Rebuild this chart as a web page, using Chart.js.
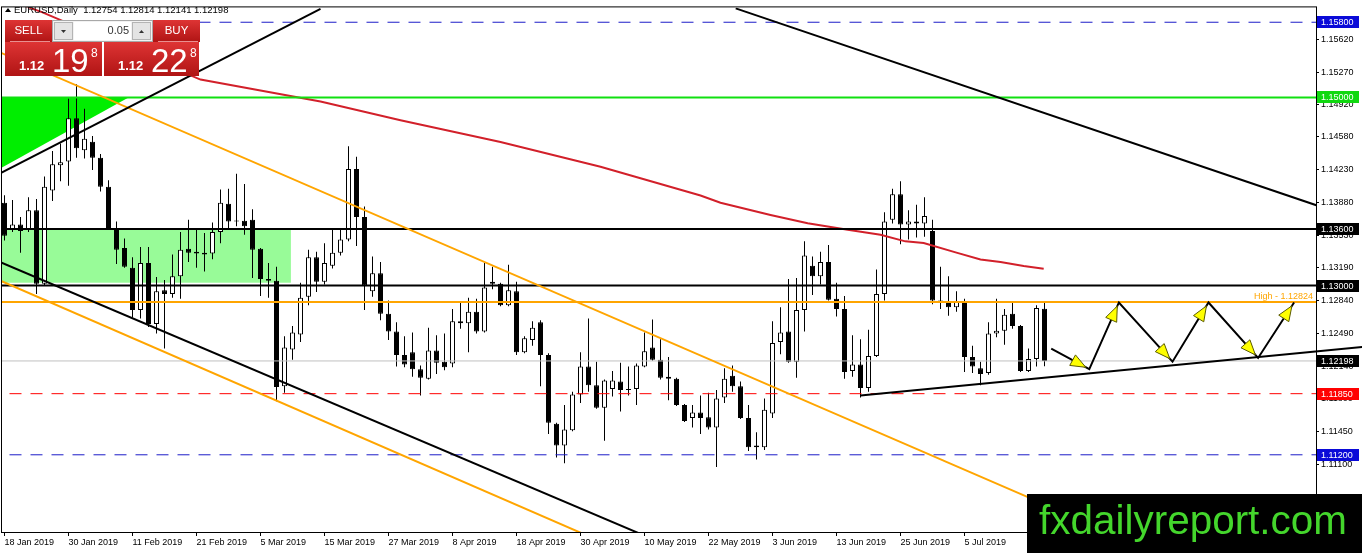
<!DOCTYPE html>
<html>
<head>
<meta charset="utf-8">
<title>EURUSD Daily</title>
<script src="https://cdn.jsdelivr.net/npm/chart.js@4.4.1/dist/chart.umd.min.js"></script>
<style>
    html, body { margin: 0; padding: 0; background: #fff; }
    #wrap { width: 1362px; height: 553px; }
</style>
</head>
<body>
<div id="wrap"><canvas id="chart" width="1362" height="553"></canvas></div>
<script>
// EURUSD daily candles, 18 Jan 2019 .. 19 Jul 2019 (bar number = position in the arrays)
var opens = [
    1.1388, 1.1360, 1.1365, 1.1359, 1.1380, 1.1302, 1.1401, 1.1428, 1.1432, 1.1478,
    1.1444, 1.1453, 1.1436, 1.1405, 1.1360, 1.1340, 1.1319, 1.1274, 1.1324, 1.1259,
    1.1295, 1.1291, 1.1310, 1.1339, 1.1336, 1.1335, 1.1334, 1.1357, 1.1387, 1.1369,
    1.1369, 1.1370, 1.1339, 1.1307, 1.1305, 1.1193, 1.1232, 1.1248, 1.1288, 1.1330,
    1.1304, 1.1321, 1.1335, 1.1349, 1.1424, 1.1373, 1.1294, 1.1313, 1.1270, 1.1251,
    1.1226, 1.1229, 1.1211, 1.1201, 1.1231, 1.1219, 1.1217, 1.1262, 1.1260, 1.1272,
    1.1251, 1.1304, 1.1302, 1.1279, 1.1294, 1.1229, 1.1242, 1.1261, 1.1226, 1.1153,
    1.1130, 1.1146, 1.1184, 1.1214, 1.1194, 1.1170, 1.1190, 1.1198, 1.1190, 1.1190,
    1.1214, 1.1234, 1.1221, 1.1203, 1.1201, 1.1173, 1.1159, 1.1165, 1.1160, 1.1149,
    1.1181, 1.1204, 1.1193, 1.1159, 1.1130, 1.1128, 1.1164, 1.1240, 1.1251, 1.1219,
    1.1274, 1.1321, 1.1310, 1.1325, 1.1286, 1.1275, 1.1209, 1.1216, 1.1191, 1.1225,
    1.1291, 1.1370, 1.1397, 1.1365, 1.1368, 1.1366, 1.1358, 1.1284, 1.1283, 1.1277,
    1.1283, 1.1224, 1.1212, 1.1207, 1.1249, 1.1252, 1.1270, 1.1257, 1.1209, 1.1222,
    1.12754
];
var highs = [
    1.1396, 1.1391, 1.1373, 1.1394, 1.1392, 1.1416, 1.1443, 1.1451, 1.1499, 1.1514,
    1.1488, 1.1459, 1.1440, 1.1412, 1.1368, 1.1350, 1.1330, 1.1341, 1.1341, 1.1309,
    1.1306, 1.1333, 1.1357, 1.1370, 1.1361, 1.1356, 1.1367, 1.1402, 1.1403, 1.1419,
    1.1408, 1.1381, 1.1340, 1.1324, 1.1320, 1.1246, 1.1257, 1.1303, 1.1338, 1.1336,
    1.1345, 1.1359, 1.1359, 1.1448, 1.1437, 1.1384, 1.1331, 1.1325, 1.1284, 1.1261,
    1.1246, 1.1250, 1.1215, 1.1255, 1.1247, 1.1249, 1.1275, 1.1283, 1.1287, 1.1286,
    1.1324, 1.1320, 1.1303, 1.1322, 1.1304, 1.1246, 1.1262, 1.1263, 1.1228, 1.1154,
    1.1173, 1.1187, 1.1229, 1.1265, 1.1219, 1.1200, 1.1209, 1.1218, 1.1214, 1.1217,
    1.1250, 1.1264, 1.1243, 1.1224, 1.1202, 1.1174, 1.1173, 1.1183, 1.1186, 1.1189,
    1.1212, 1.1215, 1.1198, 1.1173, 1.1144, 1.1180, 1.1262, 1.1277, 1.1307, 1.1308,
    1.1347, 1.1331, 1.1336, 1.1343, 1.1303, 1.1289, 1.1247, 1.1243, 1.1253, 1.1317,
    1.1378, 1.1403, 1.1411, 1.1380, 1.1386, 1.1394, 1.1370, 1.1320, 1.1310, 1.1294,
    1.1286, 1.1236, 1.1219, 1.1261, 1.1286, 1.1275, 1.1282, 1.1258, 1.1233, 1.1279,
    1.12814
];
var lows = [
    1.1348, 1.1357, 1.1335, 1.1357, 1.1291, 1.1300, 1.1390, 1.1411, 1.1406, 1.1436,
    1.1435, 1.1423, 1.1400, 1.1359, 1.1323, 1.1319, 1.1266, 1.1265, 1.1256, 1.1249,
    1.1233, 1.1287, 1.1286, 1.1325, 1.1319, 1.1315, 1.1328, 1.1345, 1.1361, 1.1363,
    1.1354, 1.1308, 1.1289, 1.1287, 1.1177, 1.1186, 1.1221, 1.1240, 1.1279, 1.1293,
    1.1301, 1.1318, 1.1332, 1.1347, 1.1342, 1.1274, 1.1288, 1.1263, 1.1242, 1.1214,
    1.1213, 1.1203, 1.1183, 1.1200, 1.1206, 1.1210, 1.1213, 1.1254, 1.1229, 1.1249,
    1.1250, 1.1296, 1.1278, 1.1278, 1.1226, 1.1228, 1.1236, 1.1193, 1.1142, 1.1117,
    1.1111, 1.1145, 1.1175, 1.1187, 1.1169, 1.1135, 1.1182, 1.1166, 1.1183, 1.1173,
    1.1213, 1.1220, 1.1200, 1.1178, 1.1172, 1.1155, 1.1149, 1.1142, 1.1147, 1.1107,
    1.1175, 1.1187, 1.1158, 1.1124, 1.1115, 1.1125, 1.1159, 1.1227, 1.1218, 1.1202,
    1.1251, 1.1290, 1.1301, 1.1284, 1.1267, 1.1201, 1.1203, 1.1181, 1.1187, 1.1224,
    1.1284, 1.1366, 1.1344, 1.1349, 1.1351, 1.1352, 1.1280, 1.1275, 1.1268, 1.1272,
    1.1208, 1.1207, 1.1194, 1.1205, 1.1245, 1.1237, 1.1254, 1.1208, 1.1208, 1.1214,
    1.12141
];
var closes = [
    1.1353, 1.1365, 1.1358, 1.1380, 1.1302, 1.1405, 1.1429, 1.1431, 1.1478, 1.1446,
    1.1456, 1.1436, 1.1405, 1.1360, 1.1338, 1.1320, 1.1274, 1.1324, 1.1259, 1.1294,
    1.1291, 1.1310, 1.1338, 1.1335, 1.1334, 1.1333, 1.1357, 1.1388, 1.1368, 1.1368,
    1.1363, 1.1338, 1.1307, 1.1305, 1.1192, 1.1234, 1.1250, 1.1287, 1.1330, 1.1304,
    1.1324, 1.1335, 1.1349, 1.1424, 1.1373, 1.1300, 1.1313, 1.1270, 1.1251, 1.1226,
    1.1216, 1.1211, 1.1202, 1.1231, 1.1218, 1.1213, 1.1262, 1.1260, 1.1272, 1.1251,
    1.1298, 1.1302, 1.1279, 1.1295, 1.1229, 1.1244, 1.1255, 1.1226, 1.1154, 1.1130,
    1.1147, 1.1184, 1.1214, 1.1194, 1.1170, 1.1199, 1.1199, 1.1189, 1.1189, 1.1215,
    1.1230, 1.1221, 1.1202, 1.1201, 1.1173, 1.1156, 1.1165, 1.1159, 1.1149, 1.1180,
    1.1201, 1.1193, 1.1159, 1.1128, 1.1128, 1.1168, 1.1239, 1.1250, 1.1219, 1.1274,
    1.1332, 1.1310, 1.1325, 1.1285, 1.1275, 1.1208, 1.1216, 1.1191, 1.1225, 1.1291,
    1.1368, 1.1397, 1.1365, 1.1368, 1.1366, 1.1374, 1.1284, 1.1283, 1.1277, 1.1283,
    1.1224, 1.1214, 1.1206, 1.1249, 1.1252, 1.1269, 1.1257, 1.1209, 1.1222, 1.1276,
    1.12198
];

// date labels under the chart, one every 8 bars
var dateLabels = ["18 Jan 2019", "30 Jan 2019", "11 Feb 2019", "21 Feb 2019", "5 Mar 2019",
    "15 Mar 2019", "27 Mar 2019", "8 Apr 2019", "18 Apr 2019", "30 Apr 2019", "10 May 2019",
    "22 May 2019", "3 Jun 2019", "13 Jun 2019", "25 Jun 2019", "5 Jul 2019"];
var dateEvery = 8;

// price scale labels
var priceTicks = [1.15620, 1.15270, 1.14920, 1.14580, 1.14230, 1.13880, 1.13530, 1.13190,
    1.12840, 1.12490, 1.12140, 1.11800, 1.11450, 1.11100, 1.10750];

// horizontal levels and the current bid
var levelPrices = [1.15800, 1.15000, 1.13600, 1.13000, 1.12824, 1.11850, 1.11200];
var bidPrice = 1.12198;
var highLabel = "High - 1.12824";

// moving average (bar, price)
var maBars = [0, 4.75, 24.5, 39.5, 49.5, 62, 74.5, 87, 89.5, 95.75, 100.4, 105.4, 109.5, 112.6, 114.9, 119.1, 122, 124.5, 127.4, 129.9];
var maPrices = [1.16053, 1.15905, 1.15190, 1.14958, 1.14758, 1.14526, 1.14263, 1.13958, 1.13881, 1.13751, 1.13663, 1.13593, 1.13540, 1.13470, 1.13453, 1.13347, 1.13277, 1.13250, 1.13207, 1.13179];

// trend lines, [bar, price] at both ends
var upLine = [[-0.5, 1.14195], [39.5, 1.15942]];
var downLineTop = [[91.4, 1.15947], [164, 1.13853]];
var downLineLow = [[-0.5, 1.13247], [85, 1.10160]];
var orangeUpper = [[-0.5, 1.15477], [135, 1.10490]];
var orangeLower = [[-0.5, 1.13052], [78, 1.10150]];
var supportLine = [[107, 1.11830], [169.75, 1.12347]];

// shaded areas
var zoneBars = [-1, 35.8];
var zonePrices = [1.13600, 1.13030];
var wedge = [[-0.5, 1.15000], [15.5, 1.15000], [-0.5, 1.14247]];

// projected zigzag
var zigBars = [130.84, 135.6, 139.3, 146.0, 150.5, 156.7, 161.2];
var zigPrices = [1.12330, 1.12110, 1.12820, 1.12190, 1.12820, 1.12230, 1.12820];

// quote panel
var sellQuote = ["1.12", "19", "8"];
var buyQuote = ["1.12", "22", "8"];
var lotSize = "0.05";
var header = "EURUSD,Daily  1.12754 1.12814 1.12141 1.12198";


var FONT = '"Liberation Sans", Arial, sans-serif';
var levelStyle = [
    {color: '#1c1cc8', width: 1, dash: [12, 9], box: '#0a0ad8'},
    {color: '#10e010', width: 2, dash: [], box: '#10d810'},
    {color: '#000000', width: 2, dash: [], box: '#000000'},
    {color: '#000000', width: 2, dash: [], box: '#000000'},
    {color: '#ffa500', width: 2, dash: [], box: null},
    {color: '#ff0000', width: 1, dash: [12, 9], box: '#ff0000'},
    {color: '#1c1cc8', width: 1, dash: [12, 9], box: '#0a0ad8'}
];

function toPoints(pairs) {
    return pairs.map(function (p) { return {x: p[0], y: p[1]}; });
}

function lineSet(points, color, width, order, extra) {
    var ds = {
        type: 'line', data: points, borderColor: color, borderWidth: width,
        pointRadius: 0, fill: false, tension: 0, order: order
    };
    return Object.assign(ds, extra || {});
}

var datasets = [];

// candles: wicks behind, bodies on top
datasets.push({
    type: 'bar',
    data: closes.map(function (c, i) { return {x: i, y: [lows[i], highs[i]]}; }),
    backgroundColor: '#000', borderWidth: 0, barThickness: 1,
    grouped: false, inflateAmount: 0, order: 20
});
datasets.push({
    type: 'bar',
    data: closes.map(function (c, i) { return {x: i, y: [opens[i], c]}; }),
    backgroundColor: closes.map(function (c, i) { return c > opens[i] ? '#ffffff' : '#000000'; }),
    borderColor: '#000', borderWidth: 1, borderSkipped: false, barThickness: 5,
    minBarLength: 1, grouped: false, inflateAmount: 0, order: 19
});

levelPrices.forEach(function (p, k) {
    var s = levelStyle[k];
    datasets.push(lineSet([{x: -2, y: p}, {x: 180, y: p}], s.color, s.width, 5, {borderDash: s.dash}));
});
datasets.push(lineSet([{x: -2, y: bidPrice}, {x: 180, y: bidPrice}], '#c0c0c0', 1, 8));

datasets.push(lineSet(maBars.map(function (b, k) { return {x: b, y: maPrices[k]}; }), '#d2202a', 2, 6));

datasets.push(lineSet(toPoints(upLine), '#000', 2, 4));
datasets.push(lineSet(toPoints(downLineTop), '#000', 2, 4));
datasets.push(lineSet(toPoints(downLineLow), '#000', 2, 4));
datasets.push(lineSet(toPoints(orangeUpper), '#ffa500', 2, 4));
datasets.push(lineSet(toPoints(orangeLower), '#ffa500', 2, 4));
datasets.push(lineSet(toPoints(supportLine), '#000', 2, 3, {clip: {left: 0, top: 0, right: 50, bottom: 0}}));

datasets.push(lineSet(zigBars.map(function (b, k) { return {x: b, y: zigPrices[k]}; }), '#000', 2, 1));


function redFill(ctx, y0, y1) {
    var g = ctx.createLinearGradient(0, y0, 0, y1);
    g.addColorStop(0, '#de3434');
    g.addColorStop(1, '#b01414');
    return g;
}

function drawPanel(ctx) {
    ctx.save();
    // sell / buy buttons
    ctx.fillStyle = redFill(ctx, 20, 42);
    ctx.fillRect(5, 20, 47, 22);
    ctx.fillRect(153, 20, 47, 22);
    ctx.fillStyle = '#e89090';
    ctx.fillRect(10, 41, 40, 1);
    ctx.fillRect(158, 41, 40, 1);

    // lot box
    ctx.fillStyle = '#f2f2f2';
    ctx.fillRect(52, 20, 101, 22);
    ctx.strokeStyle = '#a8a8a8';
    ctx.lineWidth = 1;
    ctx.strokeRect(52.5, 20.5, 100, 21);
    ctx.fillStyle = '#e4e4e4';
    ctx.fillRect(54, 22, 19, 18);
    ctx.fillRect(132, 22, 19, 18);
    ctx.strokeStyle = '#b4b4b4';
    ctx.strokeRect(54.5, 22.5, 18, 17);
    ctx.strokeRect(132.5, 22.5, 18, 17);
    ctx.fillStyle = '#ffffff';
    ctx.fillRect(74, 22, 57, 18);
    ctx.fillStyle = '#333';
    ctx.beginPath();
    ctx.moveTo(61, 30); ctx.lineTo(66, 30); ctx.lineTo(63.5, 33); ctx.closePath(); ctx.fill();
    ctx.beginPath();
    ctx.moveTo(139, 33); ctx.lineTo(144, 33); ctx.lineTo(141.5, 30); ctx.closePath(); ctx.fill();
    ctx.font = '11px ' + FONT;
    ctx.textBaseline = 'middle';
    ctx.textAlign = 'right';
    ctx.fillText(lotSize, 129, 31);

    // price boxes
    ctx.fillStyle = redFill(ctx, 42, 76);
    ctx.fillRect(5, 42, 97, 34);
    ctx.fillRect(104, 42, 95, 34);

    ctx.fillStyle = '#fff';
    ctx.textAlign = 'center';
    ctx.font = '11.5px ' + FONT;
    ctx.fillText('SELL', 28.5, 31);
    ctx.fillText('BUY', 176.5, 31);

    ctx.textAlign = 'left';
    ctx.textBaseline = 'alphabetic';
    [[sellQuote, 19], [buyQuote, 118]].forEach(function (q) {
        var t = q[0], x0 = q[1];
        ctx.font = 'bold 13px ' + FONT;
        ctx.fillText(t[0], x0, 70);
        ctx.font = '33px ' + FONT;
        ctx.fillText(t[1], x0 + 33, 72, 37);
        ctx.font = '12px ' + FONT;
        ctx.fillText(t[2], x0 + 72, 57);
    });
    ctx.restore();
}

var overlay = {
    id: 'overlay',
    beforeDatasetsDraw: function (chart) {
        var ctx = chart.ctx, a = chart.chartArea, xs = chart.scales.x, ys = chart.scales.y;
        ctx.save();
        ctx.beginPath();
        ctx.rect(a.left, a.top, a.right - a.left, a.bottom - a.top);
        ctx.clip();

        var x0 = xs.getPixelForValue(zoneBars[0]), x1 = xs.getPixelForValue(zoneBars[1]);
        var y0 = ys.getPixelForValue(zonePrices[0]), y1 = ys.getPixelForValue(zonePrices[1]);
        ctx.fillStyle = '#98fb98';
        ctx.fillRect(x0, y0, x1 - x0, y1 - y0);

        ctx.fillStyle = '#00ee00';
        ctx.beginPath();
        wedge.forEach(function (p, k) {
            var px = xs.getPixelForValue(p[0]), py = ys.getPixelForValue(p[1]);
            if (k) ctx.lineTo(px, py); else ctx.moveTo(px, py);
        });
        ctx.closePath();
        ctx.fill();
        ctx.restore();
    },
    afterDatasetsDraw: function (chart) {
        // yellow arrow heads on the zigzag
        var ctx = chart.ctx, xs = chart.scales.x, ys = chart.scales.y;
        ctx.save();
        for (var k = 1; k < zigBars.length; k++) {
            var ax = xs.getPixelForValue(zigBars[k - 1]), ay = ys.getPixelForValue(zigPrices[k - 1]);
            var bx = xs.getPixelForValue(zigBars[k]), by = ys.getPixelForValue(zigPrices[k]);
            var len = Math.hypot(bx - ax, by - ay), ux = (bx - ax) / len, uy = (by - ay) / len;
            var tx = bx - ux * 4, ty = by - uy * 4;
            var cx = tx - ux * 15, cy = ty - uy * 15;
            ctx.beginPath();
            ctx.moveTo(tx, ty);
            ctx.lineTo(cx - uy * 6, cy + ux * 6);
            ctx.lineTo(cx + uy * 6, cy - ux * 6);
            ctx.closePath();
            ctx.fillStyle = '#ffff00';
            ctx.fill();
            ctx.strokeStyle = '#5a5a00';
            ctx.lineWidth = 1;
            ctx.stroke();
        }
        ctx.restore();
    },
    afterDraw: function (chart) {
        var ctx = chart.ctx, a = chart.chartArea, ys = chart.scales.y;
        ctx.save();

        // frame
        ctx.strokeStyle = '#000';
        ctx.lineWidth = 1;
        ctx.strokeRect(a.left - 0.5, a.top - 0.5, a.right - a.left + 1, a.bottom - a.top + 1);

        // boxed prices on the scale
        ctx.font = '9px ' + FONT;
        ctx.textBaseline = 'middle';
        ctx.textAlign = 'left';
        var boxes = [];
        levelPrices.forEach(function (p, k) { if (levelStyle[k].box) boxes.push([p, levelStyle[k].box]); });
        boxes.push([bidPrice, '#000000']);
        boxes.forEach(function (b) {
            var py = Math.round(ys.getPixelForValue(b[0]));
            ctx.fillStyle = b[1];
            ctx.fillRect(a.right + 1, py - 6, 42, 12);
            ctx.fillStyle = '#fff';
            ctx.fillText(b[0].toFixed(5), a.right + 5, py + 0.5);
        });

        // high label
        ctx.fillStyle = '#ffa500';
        ctx.textAlign = 'right';
        ctx.textBaseline = 'bottom';
        ctx.fillText(highLabel, a.right - 3, ys.getPixelForValue(levelPrices[4]) - 1);

        // header
        ctx.fillStyle = '#000';
        ctx.beginPath();
        ctx.moveTo(5, 12); ctx.lineTo(11, 12); ctx.lineTo(8, 8); ctx.closePath(); ctx.fill();
        ctx.font = '9.5px ' + FONT;
        ctx.textAlign = 'left';
        ctx.textBaseline = 'middle';
        ctx.fillText(header, 14, 10);

        drawPanel(ctx);

        // watermark
        ctx.fillStyle = '#000';
        ctx.fillRect(1027, 494, 335, 59);
        ctx.fillStyle = '#44d62c';
        ctx.font = '41px ' + FONT;
        ctx.textAlign = 'left';
        ctx.textBaseline = 'alphabetic';
        ctx.fillText('fxdailyreport.com', 1039, 534, 308);
        ctx.restore();
    }
};

Chart.defaults.font.family = FONT;
Chart.defaults.font.size = 9;
Chart.defaults.color = '#000';

new Chart(document.getElementById('chart'), {
    type: 'bar',
    data: {datasets: datasets},
    options: {
        responsive: false,
        animation: false,
        devicePixelRatio: 1,
        layout: {padding: {left: 2, top: 2, right: 0, bottom: 0}},
        plugins: {legend: {display: false}, tooltip: {enabled: false}},
        scales: {
            x: {
                type: 'linear', position: 'bottom', offset: false,
                min: -0.3125, max: 163.9375,
                grid: {drawOnChartArea: false, drawTicks: true, tickLength: 4, color: '#000', offset: false},
                border: {display: true, color: '#000'},
                ticks: {
                    autoSkip: false, maxRotation: 0, align: 'start', padding: 1,
                    callback: function (v) { return dateLabels[Math.round(v / dateEvery)]; }
                },
                afterBuildTicks: function (scale) {
                    scale.ticks = dateLabels.map(function (d, k) { return {value: k * dateEvery}; });
                },
                afterFit: function (scale) { scale.height = 21; }
            },
            y: {
                type: 'linear', position: 'right', beginAtZero: false,
                min: 1.1037895, max: 1.1595789,
                grid: {drawOnChartArea: false, drawTicks: true, tickLength: 3, color: '#000'},
                border: {display: true, color: '#000'},
                ticks: {
                    autoSkip: false, padding: 2,
                    callback: function (v) { return v.toFixed(5); }
                },
                afterBuildTicks: function (scale) {
                    scale.ticks = priceTicks.map(function (p) { return {value: p}; });
                },
                afterFit: function (scale) { scale.width = 46; }
            }
        }
    },
    plugins: [overlay]
});
</script>
</body>
</html>
